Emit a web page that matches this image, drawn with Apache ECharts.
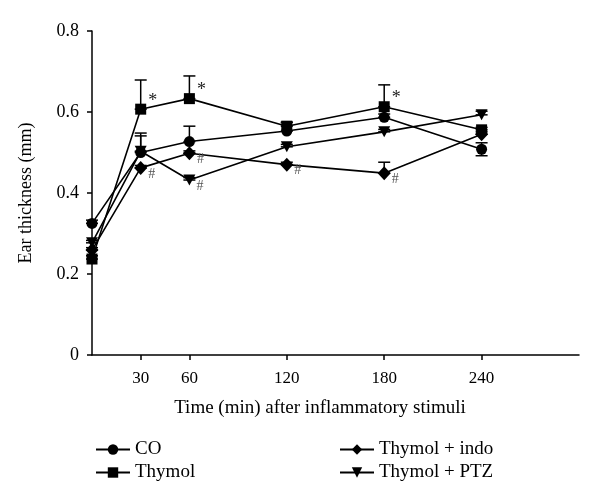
<!DOCTYPE html>
<html>
<head>
<meta charset="utf-8">
<script src="https://cdn.jsdelivr.net/npm/echarts@6/dist/echarts.min.js"></script>
<style>html,body{margin:0;padding:0;background:#fff}#c{width:600px;height:502px}</style>
</head>
<body>
<div id="c"></div>
<script>
const times = [0, 30, 60, 120, 180, 240];
const tickValues = [30, 60, 120, 180, 240];
const seriesNames = ['CO', 'Thymol', 'Thymol + indo', 'Thymol + PTZ'];
const coValues = [0.325, 0.500, 0.527, 0.553, 0.587, 0.508];
const thymolValues = [0.237, 0.607, 0.633, 0.565, 0.613, 0.556];
const indoValues = [0.259, 0.462, 0.498, 0.470, 0.449, 0.545];
const ptzValues = [0.277, 0.503, 0.432, 0.514, 0.551, 0.593];
const coErrUp = [0.008, 0.048, 0.038, 0.021, 0.008, 0.016];
const coErrDown = [0, 0, 0, 0, 0, 0.016];
const thymolErrUp = [0.008, 0.072, 0.056, 0.010, 0.054, 0.006];
const indoErrUp = [0.006, 0.006, 0.006, 0.006, 0.027, 0.006];
const ptzErrUp = [0.006, 0.038, 0.006, 0.006, 0.006, 0.009];
const coMarks = ['', '', '', '', '', ''];
const thymolMarks = ['', '*', '*', '', '*', ''];
const indoMarks = ['', '#', '#', '#', '#', ''];
const ptzMarks = ['', '', '#', '', '', ''];

const FONT = 'Liberation Serif';

function buildData(vals, marks) {
  return vals.map((v, i) => {
    const m = marks[i];
    const item = { value: [times[i], v] };
    if (m) {
      item.label = {
        show: true,
        formatter: m,
        position: 'right',
        fontFamily: FONT,
        color: m === '*' ? '#222' : '#555',
        fontSize: m === '*' ? 18 : 14,
        offset: m === '*' ? [-3, -8] : [-4, 6]
      };
    }
    return item;
  });
}

const errData = [];
[[coValues, coErrUp, coErrDown], [thymolValues, thymolErrUp, null], [indoValues, indoErrUp, null], [ptzValues, ptzErrUp, null]]
  .forEach(([vals, up, down]) => {
    vals.forEach((v, i) => {
      errData.push([times[i], v, v + up[i], v - (down ? down[i] : 0)]);
    });
  });

const chart = echarts.init(document.getElementById('c'));
const lineStyle = { color: '#000', width: 1.6 };
const itemStyle = { color: '#000' };

chart.setOption({
  animation: false,
  textStyle: { fontFamily: FONT },
  grid: { left: 92, right: 21, top: 31, bottom: 147, containLabel: false },
  legend: [
    {
      data: [seriesNames[0], seriesNames[1]],
      orient: 'vertical', left: 90, top: 435, itemGap: 4, itemWidth: 34, itemHeight: 13,
      textStyle: { fontFamily: FONT, fontSize: 19, color: '#000' }
    },
    {
      data: [seriesNames[2], seriesNames[3]],
      orient: 'vertical', left: 334, top: 435, itemGap: 4, itemWidth: 34, itemHeight: 13,
      textStyle: { fontFamily: FONT, fontSize: 19, color: '#000' }
    }
  ],
  xAxis: {
    type: 'value', min: 0, max: 300,
    name: 'Time (min) after inflammatory stimuli',
    nameLocation: 'middle', nameGap: 44,
    nameTextStyle: { fontFamily: FONT, fontSize: 19, color: '#000', padding: [0, 31, 0, 0] },
    axisLine: { show: true, lineStyle: { color: '#000', width: 1.5 } },
    axisTick: { show: true, customValues: tickValues, length: 5, lineStyle: { color: '#000', width: 1.5 } },
    axisLabel: { customValues: tickValues, fontFamily: FONT, fontSize: 17, color: '#000', margin: 15 },
    splitLine: { show: false }
  },
  yAxis: {
    type: 'value', min: 0, max: 0.8, interval: 0.2,
    name: 'Ear thickness (mm)',
    nameLocation: 'middle', nameGap: 57, nameRotate: 90,
    nameTextStyle: { fontFamily: FONT, fontSize: 18, color: '#000' },
    axisLine: { show: true, lineStyle: { color: '#000', width: 1.5 } },
    axisTick: { show: true, length: 5, lineStyle: { color: '#000', width: 1.5 } },
    axisLabel: { fontFamily: FONT, fontSize: 18, color: '#000', margin: 13,
      formatter: v => (v === 0 ? '0' : v.toFixed(1)) },
    splitLine: { show: false }
  },
  series: [
    {
      type: 'custom', name: 'err', silent: true, z: 1,
      data: errData,
      renderItem: function (params, api) {
        const x = api.value(0);
        const top = api.coord([x, api.value(2)]);
        const bot = api.coord([x, api.value(3)]);
        const hw = 6;
        return {
          type: 'group',
          children: [
            { type: 'line', shape: { x1: top[0], y1: top[1], x2: bot[0], y2: bot[1] }, style: { stroke: '#000', lineWidth: 1.5 } },
            { type: 'line', shape: { x1: top[0] - hw, y1: top[1], x2: top[0] + hw, y2: top[1] }, style: { stroke: '#000', lineWidth: 1.5 } },
            { type: 'line', shape: { x1: bot[0] - hw, y1: bot[1], x2: bot[0] + hw, y2: bot[1] }, style: { stroke: '#000', lineWidth: 1.5 } }
          ]
        };
      }
    },
    { type: 'line', name: seriesNames[0], data: buildData(coValues, coMarks), symbol: 'circle', symbolSize: 11, lineStyle, itemStyle, z: 3 },
    { type: 'line', name: seriesNames[1], data: buildData(thymolValues, thymolMarks), symbol: 'rect', symbolSize: 11, lineStyle, itemStyle, z: 3 },
    { type: 'line', name: seriesNames[2], data: buildData(indoValues, indoMarks), symbol: 'diamond', symbolSize: [13, 14], lineStyle, itemStyle, z: 3 },
    { type: 'line', name: seriesNames[3], data: buildData(ptzValues, ptzMarks), symbol: 'triangle', symbolRotate: 180, symbolSize: [12, 11], lineStyle, itemStyle, z: 3 }
  ]
});
</script>
</body>
</html>
